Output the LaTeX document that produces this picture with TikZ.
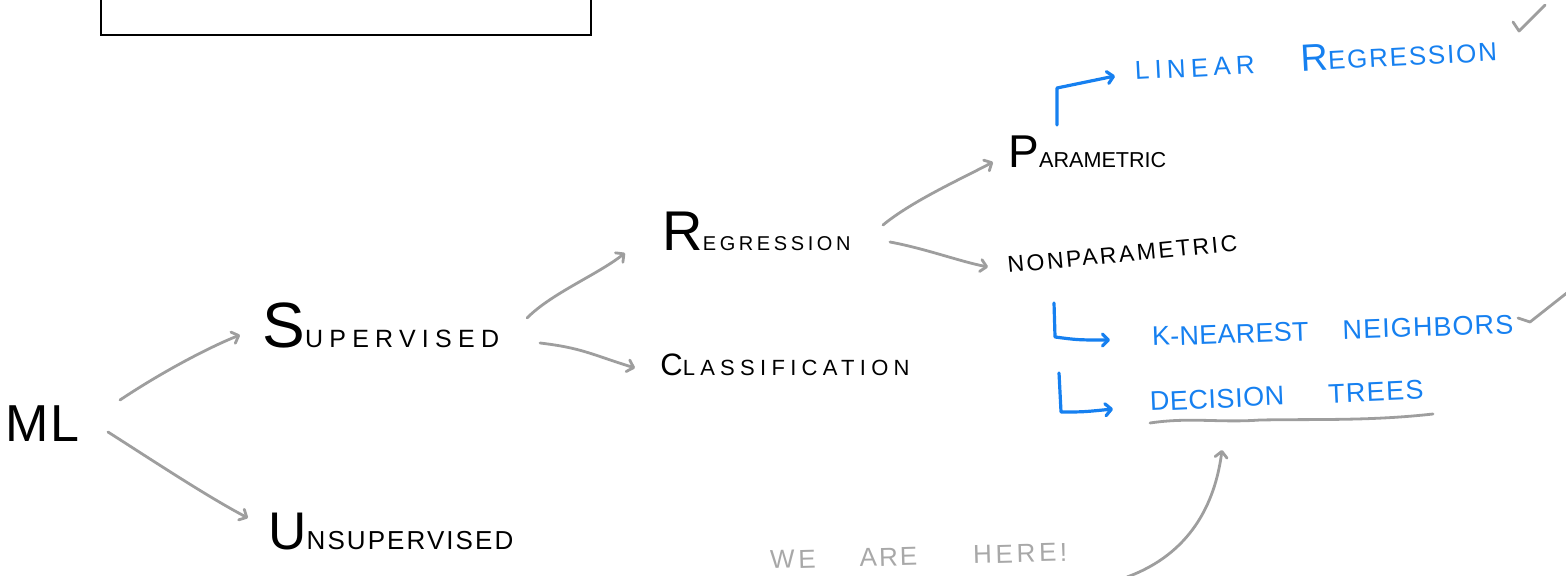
\documentclass[tikz,border=0pt]{standalone}
\usepackage{fontspec}
\setmainfont{Liberation Sans}
\usetikzlibrary{arrows.meta,calc}
\definecolor{argray}{RGB}{158,158,158}
\definecolor{txgray}{RGB}{168,168,168}
\definecolor{hblue}{RGB}{22,128,240}
\newcommand{\hw}[5]{{\fontsize{#1}{#1}\selectfont #2}{\fontsize{#3}{#3}\selectfont\addfontfeatures{LetterSpace=#4}#5}}
\newcommand{\hs}[3]{{\fontsize{#1}{#1}\selectfont\addfontfeatures{LetterSpace=#2}#3}}
\tikzset{
  lbl/.style={anchor=base west, inner sep=0pt, text=black},
  blbl/.style={anchor=base west, inner sep=0pt, text=hblue},
  garrow/.style={draw=argray, line width=1.4pt, line cap=round, line join=round,
     -{Straight Barb[length=3pt,width=6pt,round]}},
  barrow/.style={draw=hblue, line width=1.6pt, line cap=round, line join=round,
     -{Straight Barb[length=3pt,width=6pt,round]}},
  gline/.style={draw=argray, line width=1.4pt, line cap=round, line join=round},
  frame/.style={draw=black, line width=1pt}
}
\begin{document}
\begin{tikzpicture}[x=0.5pt,y=-0.5pt]
\useasboundingbox (0,0) rectangle (1566,576);
% top frame
\draw[frame] (101,-5) rectangle (591,35);

% black labels
\node[lbl] (ml) at (5,442) {\hs{26}{4}{ML}};
\node[lbl] (sup) at (262,348) {\hw{32}{S}{12.5}{25}{UPERVISED}};
\node[lbl] (unsup) at (268,549) {\hw{26.5}{U}{13}{8}{NSUPERVISED}};
\node[lbl] (reg) at (662,251) {\hw{28}{R}{10}{18}{EGRESSION}};
\node[lbl] (cls) at (660,376) {\hw{15.5}{C}{11}{24}{LASSIFICATION}};
\node[lbl] (par) at (1008,168) {\hw{23}{P}{10.8}{0}{ARAMETRIC}};
\node[lbl, rotate=5.5] (nonpar) at (1008,273) {\hs{11.5}{11}{NONPARAMETRIC}};

% blue labels
\node[blbl, rotate=3] (lin) at (1135,80) {\hs{13}{20}{LINEAR}\hspace{23pt}\hw{19}{R}{13}{7}{EGRESSION}};
\node[blbl, rotate=2] (knn) at (1152,346) {\hs{13.5}{1}{K-NEAREST}\hspace{17pt}\hs{13.5}{4}{NEIGHBORS}};
\node[blbl, rotate=2.5] (dt) at (1150,411) {\hs{13.5}{2}{DECISION}\hspace{22pt}\hs{13.5}{5}{TREES}};

% gray note
\node[anchor=base west, inner sep=0pt, text=txgray, rotate=1.5] (here) at (770,569)
  {\hs{13}{14}{WE}\hspace{22pt}\hs{13}{8}{ARE}\hspace{28pt}\hs{13}{14}{HERE!}};

% gray connectors
\draw[garrow] ($(ml.base west)+(115,-42)$) .. controls ($(ml.base west)+(160,-72)$) and ($(sup.base west)+(-50,-2)$) .. ($(sup.base west)+(-22,-13)$);
\draw[garrow] ($(ml.base west)+(103,-10)$) .. controls ($(ml.base west)+(150,20)$) and ($(unsup.base west)+(-60,-52)$) .. ($(unsup.base west)+(-20,-31)$);
\draw[garrow] ($(sup.base west)+(265,-30)$) .. controls ($(sup.base west)+(290,-55)$) and ($(reg.base west)+(-65,24)$) .. ($(reg.base west)+(-37,2)$);
\draw[garrow] ($(sup.base west)+(278,-5)$) .. controls ($(sup.base west)+(320,0)$) and ($(cls.base west)+(-70,-22)$) .. ($(cls.base west)+(-25,-8)$);
\draw[garrow] ($(reg.base west)+(221,-26)$) .. controls ($(reg.base west)+(250,-50)$) and ($(par.base west)+(-45,10)$) .. ($(par.base west)+(-15,-6)$);
\draw[garrow] ($(reg.base west)+(228,-9)$) .. controls ($(reg.base west)+(265,-2)$) and ($(nonpar.base west)+(-50,-12)$) .. ($(nonpar.base west)+(-20,-6)$);

% blue connectors
\draw[barrow] ($(par.base west)+(49,-43)$) -- ($(par.base west)+(49,-80)$) -- ($(lin.base west)+(-20,-4)$);
\draw[barrow] ($(nonpar.base west)+(46,30)$) -- ($(nonpar.base west)+(47,64)$) .. controls ($(nonpar.base west)+(70,67)$) .. ($(knn.base west)+(-42,-6)$);
\draw[barrow] ($(nonpar.base west)+(51,100)$) -- ($(nonpar.base west)+(53,139)$) .. controls ($(nonpar.base west)+(75,139)$) .. ($(dt.base west)+(-37,-2)$);

% underline of decision trees
\draw[gline] ($(dt.base west)+(0,12)$) .. controls ($(dt.base west)+(40,6)$) and ($(dt.base west)+(70,12)$) .. ($(dt.base west)+(110,9)$)
  .. controls ($(dt.base west)+(170,8)$) and ($(dt.base west)+(220,10)$) .. ($(dt.base west)+(283,3)$);

% check marks
\draw[gline] (1513,22) -- (1519,31) -- (1545,5);
\draw[gline] (1518,318) -- (1530,322) -- (1568,292);

% we are here arrow
\draw[garrow] ($(here.base west)+(357,8)$) .. controls ($(here.base west)+(420,-15)$) and ($(here.base west)+(445,-65)$) .. ($(dt.base west)+(72,39)$);
\end{tikzpicture}
\end{document}
